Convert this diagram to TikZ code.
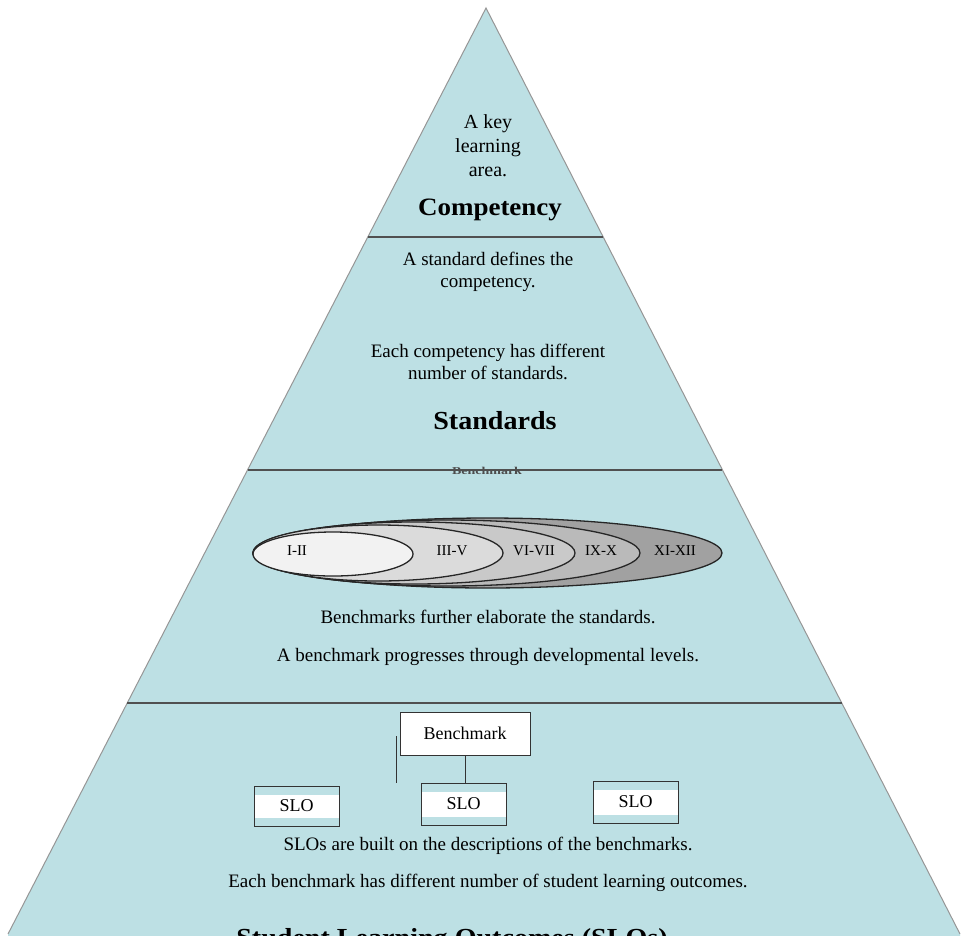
\documentclass[tikz,border=0pt]{standalone}
\usepackage{fontspec}
\setmainfont{Liberation Serif}
\usetikzlibrary{calc,fit,positioning,shapes.geometric}

\begin{document}
\begin{tikzpicture}[x=1pt, y=-1pt, font=\fontsize{19}{22.5}\selectfont]
		\definecolor{pcyan}{RGB}{189,224,228}
		\definecolor{pedge}{RGB}{150,150,150}
		\definecolor{pline}{RGB}{80,80,80}
		\tikzset{
			head/.style={font=\fontsize{25}{30}\selectfont\bfseries, xscale=1.08},
			lvl/.style={ellipse, draw=black!85, line width=1.3pt, inner sep=0pt},
			lvltext/.style={font=\fontsize{15}{15}\selectfont},
			bmbox/.style={draw=black!80, line width=1pt, inner sep=0pt, fill=white},
			slobox/.style={draw=black!80, line width=1pt, inner sep=0pt, fill=pcyan,
				path picture={\fill[white] ([yshift=-9pt]path picture bounding box.north west)
					rectangle ([yshift=8pt]path picture bounding box.south east);}},
		}
		\useasboundingbox (0,0) rectangle (961,935);
		\clip (0,0) rectangle (961,935);

		% Pyramid
		\coordinate (top) at (486,8);
		\coordinate (bl) at (8,934);
		\coordinate (br) at (960,934);
		\fill[pcyan] (top) -- (br) -- ([yshift=-4pt]br) -- ([yshift=-4pt]bl) -- (bl) -- cycle;
		\draw[pedge, line width=1pt] (bl) -- (top) -- (br);

		% Competency
		\node[align=center, font=\fontsize{20}{24}\selectfont] (kla) at (488,146) {A key\\learning\\area.};
		\node[head] (comp) at (490,210) {Competency};

		% Standards
		\node[align=center] (sdef) at (488,272) {A standard defines the\\competency.};
		\node[align=center] (cdiff) at (488,362) {Each competency has different\\number of standards.};
		\node[head, font=\fontsize{26}{30}\selectfont\bfseries] (std) at (495,421) {Standards};
		\node[text=black!70, font=\fontsize{14}{14}\selectfont\bfseries, yscale=0.75] (bmk) at (487,471) {Benchmark};

		% Benchmarks
		\node[lvl, fill=black!37, minimum width=469, minimum height=70] (lvE) at (487.5,553) {};
		\node[lvl, fill=black!27, minimum width=387, minimum height=66] (lvD) at (446.5,553) {};
		\node[lvl, fill=black!21, minimum width=322, minimum height=62] (lvC) at (414,553) {};
		\node[lvl, fill=black!14, minimum width=250, minimum height=56] (lvB) at (378,553) {};
		\node[lvl, fill=black!5, minimum width=160, minimum height=44] (lvA) at (333,554) {};
		\node[lvltext] (lbA) at (297,551) {I-II};
		\node[lvltext] (lbB) at (452,551) {III-V};
		\node[lvltext] (lbC) at (534,551) {VI-VII};
		\node[lvltext] (lbD) at (601,551) {IX-X};
		\node[lvltext] (lbE) at (675,551) {XI-XII};
		\node (bfe) at (488,617) {Benchmarks further elaborate the standards.};
		\node (bpr) at (488,657) {A benchmark progresses through developmental levels.};

		% SLOs
		\node[bmbox, fit={(400,712) (530,755)}, label={[font=\fontsize{18}{18}\selectfont]center:Benchmark}] (bm) {};
		\node[slobox, fit={(254,786) (339,826)}, label={[font=\fontsize{18}{18}\selectfont]center:SLO}] (sloA) {};
		\node[slobox, fit={(421,783) (506,825)}, label={[font=\fontsize{18}{18}\selectfont]center:SLO}] (sloB) {};
		\node[slobox, fit={(593,781) (678,823)}, label={[font=\fontsize{18}{18}\selectfont]center:SLO}] (sloC) {};
		\draw[black!80, line width=1pt] (bm.south) -- (bm.south |- sloB.north);
		\coordinate (stA) at (396,736);
		\coordinate (stB) at (396,783);
		\draw[black!80, line width=1pt] (stA) -- (stB);
		\node (slob) at (488,846) {SLOs are built on the descriptions of the benchmarks.};
		\node (ebn) at (488,883) {Each benchmark has different number of student learning outcomes.};
		\node[head, font=\fontsize{26}{30}\selectfont\bfseries, anchor=base] (slohd) at (452,946) {Student Learning Outcomes (SLOs)};

		% Layer lines
		\foreach \t in {0.2473,0.4989,0.7505}
			\draw[pline, line width=1.3pt] ($(top)!\t!(bl)$) -- ($(top)!\t!(br)$);
\end{tikzpicture}
\end{document}
